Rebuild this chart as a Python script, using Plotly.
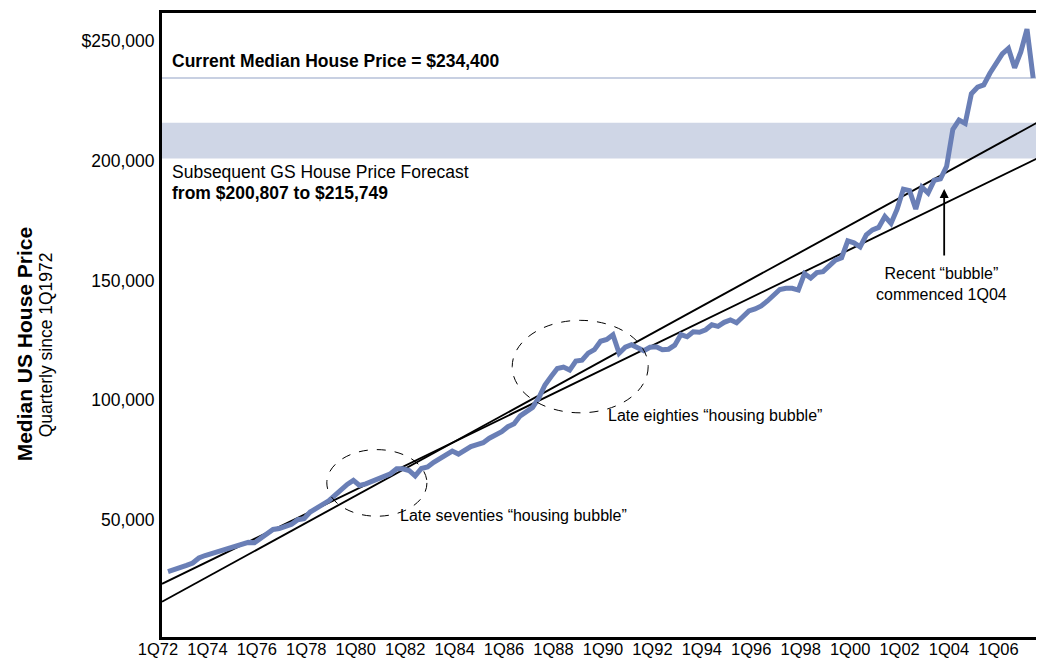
import plotly.graph_objects as go

# Median US house price, quarterly 1Q72 .. 1Q07
price = [
    28570, 29270, 29980, 31140, 32170, 34250, 35280, 36030, 36610, 37360,
    38180, 39100, 39970, 40750, 40590, 42330, 43990, 46150, 46520, 47310,
    48340, 50210, 50620, 53400, 54850, 56630, 58090, 60370, 62850, 64930,
    66590, 64510, 65130, 66170, 67620, 68660, 69360, 71430, 71430, 70730,
    68450, 71560, 72180, 74170, 75710, 77160, 78820, 77570, 79230, 80680,
    81510, 82340, 84210, 85660, 86900, 88970, 90220, 93530, 95190, 97060,
    101000, 106390, 109910, 113230, 113850, 112600, 116340, 116750, 119650, 121110,
    124630, 125340, 127330, 119650, 122140, 123180, 121930, 120690, 122140, 122350,
    121110, 121310, 122970, 127400, 126490, 128570, 128360, 129400, 131470, 130850,
    132510, 133540, 132300, 134790, 137270, 138100, 139350, 141420, 143910, 146190,
    146730, 146730, 145980, 152820, 150960, 153240, 153650, 156350, 158420, 159450,
    166500, 165670, 164010, 168990, 171060, 172100, 176660, 173760, 179770, 188060,
    187440, 179770, 188890, 186400, 191790, 192330, 197600, 212940, 216880, 215430,
    227870, 230560, 231510, 236370, 240720, 244450, 246730, 238650, 245280, 254810,
    234400,
]
quarter = list(range(len(price)))

tick_pos = list(range(0, 137, 8))
tick_text = ["1Q72", "1Q74", "1Q76", "1Q78", "1Q80", "1Q82", "1Q84", "1Q86", "1Q88",
             "1Q90", "1Q92", "1Q94", "1Q96", "1Q98", "1Q00", "1Q02", "1Q04", "1Q06"]
y_ticks = [50000, 100000, 150000, 200000, 250000]
y_text = ["50,000", "100,000", "150,000", "200,000", "$250,000"]

# trend lines (edge to edge)
trend_x = [-0.97, 140.62]
trend_steep = [16000, 215749]
trend_flat = [23470, 200807]

current_price = 234400
forecast_low, forecast_high = 200807, 215749

FONT = "Liberation Sans, Arial, sans-serif"
BLUE = "#6a7fb6"
BAND = "#cfd6e6"

fig = go.Figure()

fig.add_hrect(y0=forecast_low, y1=forecast_high, fillcolor=BAND, line_width=0,
              layer="below")
fig.add_hline(y=current_price, line=dict(color="#c8d0e2", width=2), layer="below")

fig.add_trace(go.Scatter(x=trend_x, y=trend_steep, mode="lines",
                         line=dict(color="black", width=1.9), showlegend=False))
fig.add_trace(go.Scatter(x=trend_x, y=trend_flat, mode="lines",
                         line=dict(color="black", width=1.9), showlegend=False))
fig.add_trace(go.Scatter(x=quarter, y=price, mode="lines",
                         line=dict(color=BLUE, width=5), showlegend=False))

# dashed ellipses around the earlier bubbles
fig.add_shape(type="circle", x0=25.7, x1=41.9, y0=51660, y1=79440,
              line=dict(color="black", width=1, dash="dash"))
fig.add_shape(type="circle", x0=55.7, x1=77.7, y0=94780, y1=133340,
              line=dict(color="black", width=1, dash="dash"))

ann_font = dict(family=FONT, size=16, color="black")
big_font = dict(family=FONT, size=17.5, color="black")

fig.add_annotation(x=0.3, y=241500, text="<b>Current Median House Price = $234,400</b>",
                   xanchor="left", yanchor="middle", showarrow=False, font=big_font)
fig.add_annotation(x=0.3, y=195100, text="Subsequent GS House Price Forecast",
                   xanchor="left", yanchor="middle", showarrow=False, font=big_font)
fig.add_annotation(x=0.3, y=186400, text="<b>from $200,807 to $215,749</b>",
                   xanchor="left", yanchor="middle", showarrow=False, font=big_font)
fig.add_annotation(x=37.2, y=52070, text="Late seventies \u201chousing bubble\u201d",
                   xanchor="left", yanchor="middle", showarrow=False, font=ann_font)
fig.add_annotation(x=70.9, y=93530, text="Late eighties \u201chousing bubble\u201d",
                   xanchor="left", yanchor="middle", showarrow=False, font=ann_font)
fig.add_annotation(x=125.2, y=148680, text="Recent \u201cbubble\u201d<br>commenced 1Q04",
                   xanchor="center", yanchor="middle", showarrow=False, font=ann_font)
fig.add_annotation(x=125.6, y=188060, text="", showarrow=True, ax=0, ay=68,
                   arrowhead=2, arrowsize=1, arrowwidth=1.8, arrowcolor="black")

# y-axis titles
fig.add_annotation(x=-0.1577, y=0.469, xref="paper", yref="paper",
                   xanchor="center", yanchor="middle",
                   text="<b>Median US House Price</b>", textangle=-90,
                   showarrow=False, font=dict(family=FONT, size=21, color="black"))
fig.add_annotation(x=-0.1326, y=0.469, xref="paper", yref="paper",
                   xanchor="center", yanchor="middle",
                   text="Quarterly since 1Q1972", textangle=-90,
                   showarrow=False, font=dict(family=FONT, size=17.5, color="black"))

fig.update_xaxes(range=[trend_x[0], trend_x[1]], tickvals=tick_pos, ticktext=tick_text,
                 ticklabelshift=-10, ticklabelstandoff=-5, showgrid=False, zeroline=False,
                 showline=True, linecolor="black", linewidth=3, mirror=True,
                 ticks="", tickfont=dict(family=FONT, size=16.5, color="black"))
fig.update_yaxes(range=[1300, 261500], tickvals=y_ticks, ticktext=y_text,
                 showgrid=False, zeroline=False,
                 showline=True, linecolor="black", linewidth=3, mirror=True,
                 ticks="", ticklabelstandoff=1,
                 tickfont=dict(family=FONT, size=17.5, color="black"))

# the page body adds an 8px offset, so the figure is sized to fill what is left
fig.update_layout(width=1036, height=659, margin=dict(l=154, r=7, t=2, b=30),
                  plot_bgcolor="white", paper_bgcolor="white",
                  font=dict(family=FONT, color="black"))

fig.write_html("out.html")
